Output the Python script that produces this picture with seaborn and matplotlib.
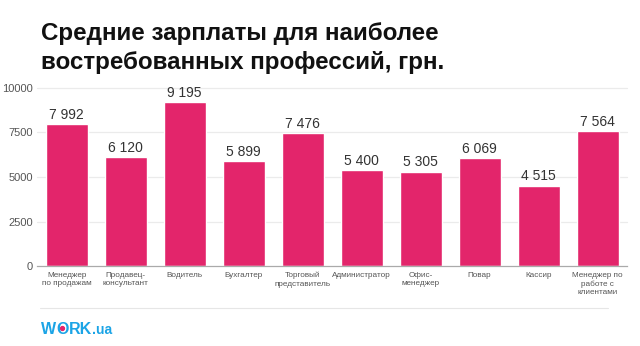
import matplotlib
matplotlib.use("Agg")
import matplotlib.pyplot as plt
import seaborn as sns
import pandas as pd

professions = [
    "Менеджер\nпо продажам", "Продавец-\nконсультант", "Водитель", "Бухгалтер",
    "Торговый\nпредставитель", "Администратор", "Офис-\nменеджер", "Повар",
    "Кассир", "Менеджер по\nработе с\nклиентами",
]
salaries = [7992, 6120, 9195, 5899, 7476, 5400, 5305, 6069, 4515, 7564]
y_ticks = [0, 2500, 5000, 7500, 10000]

df = pd.DataFrame({"profession": professions, "salary": salaries})

sns.set_theme(style="white")
plt.rcParams["font.family"] = ["Liberation Sans", "DejaVu Sans"]

fig = plt.figure(figsize=(6.4, 3.46), dpi=100)
ax = fig.add_axes([0.058, 0.231, 0.922, 0.515])

sns.barplot(data=df, x="profession", y="salary", color="#E3256B",
            saturation=1, width=0.71, ax=ax)

ax.set_ylim(0, 10000)
ax.set_xlim(-0.5, len(professions) - 0.5)
ax.set_yticks(y_ticks)
ax.set_yticklabels([str(t) for t in y_ticks], fontsize=8, color="#555555")
ax.tick_params(axis="y", length=0, pad=3)
ax.tick_params(axis="x", length=0, pad=4, labelsize=5.9, labelcolor="#555555")
for lbl in ax.get_xticklabels():
    lbl.set_linespacing(1.3)
    lbl.set_verticalalignment("top")
ax.set_xlabel("")
ax.set_ylabel("")
for t in y_ticks[1:]:
    ax.axhline(t, color="#EBEBEB", lw=0.9, zorder=0, clip_on=False)
for s in ["top", "right", "left"]:
    ax.spines[s].set_visible(False)
ax.spines["bottom"].set_color("#AAAAAA")
ax.spines["bottom"].set_linewidth(0.9)

for i, v in enumerate(salaries):
    ax.text(i, v + 120, f"{v:,}".replace(",", " "), ha="center", va="bottom",
            fontsize=10, color="#333333")

fig.text(0.064, 0.935, "Средние зарплаты для наиболее\nвостребованных профессий, грн.",
         ha="left", va="top", fontsize=17.4, fontweight="bold", color="#111111",
         linespacing=1.28)

# footer separator
fig.add_artist(plt.Line2D([0.0625, 0.95], [0.110, 0.110], transform=fig.transFigure,
                          color="#E6E6E6", lw=0.8))

# brand mark: WORK.ua with a pink dot inside the O
brand_blue = "#1BA4E6"
renderer = fig.canvas.get_renderer()
x0 = 0.064
w_txt = fig.text(x0, 0.035, "W", fontsize=11.5, fontweight="bold", color=brand_blue, va="baseline")
bb = w_txt.get_window_extent(renderer).transformed(fig.transFigure.inverted())
o_txt = fig.text(bb.x1, 0.035, "O", fontsize=11.5, fontweight="bold", color=brand_blue, va="baseline")
ob = o_txt.get_window_extent(renderer).transformed(fig.transFigure.inverted())
rk_txt = fig.text(ob.x1, 0.035, "RK", fontsize=11.5, fontweight="bold", color=brand_blue, va="baseline")
rb = rk_txt.get_window_extent(renderer).transformed(fig.transFigure.inverted())
fig.text(rb.x1, 0.035, ".ua", fontsize=10, fontweight="bold", color=brand_blue, va="baseline")
fig.add_artist(plt.Line2D([(ob.x0 + ob.x1) / 2], [0.035 + 0.0165], transform=fig.transFigure,
                          marker="o", markersize=2.8, color="#E3256B", lw=0))

fig.savefig("out.png", dpi=100)
